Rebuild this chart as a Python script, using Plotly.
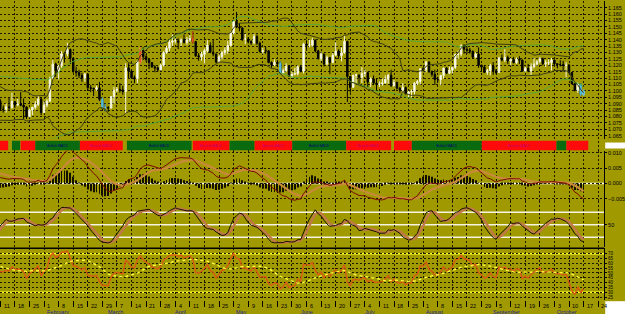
import numpy as np
import pandas as pd
import plotly.graph_objects as go
from plotly.subplots import make_subplots

# ---------------- DATA (EUR/USD daily) ----------------
FIRST_OPEN = 1.0645
N_WARM = 33  # trading days before Jan 11 (off-screen, only feed the indicators)

close = [
    # warm-up Nov 23 2015 .. Jan 8 2016
    1.0634, 1.0646, 1.0623, 1.0612, 1.0592, 1.0565, 1.0632, 1.0612, 1.0940, 1.0882,
    1.0836, 1.0892, 1.1024, 1.0994, 1.0990, 1.0993, 1.0932, 1.0910, 1.0830, 1.0867,
    1.0915, 1.0958, 1.0918, 1.0963, 1.0974, 1.0934, 1.0930, 1.0860,
    1.0826, 1.0749, 1.0780, 1.0929, 1.0920,
    # Jan 11 ..
    1.0856, 1.0855, 1.0875, 1.0868, 1.0916,
    1.0890, 1.0896, 1.0888, 1.0873, 1.0797,
    1.0849, 1.0871, 1.0894, 1.0936, 1.0830,
    1.0888, 1.0919, 1.1100, 1.1210, 1.1157,
    1.1195, 1.1290, 1.1289, 1.1323, 1.1254,
    1.1152, 1.1144, 1.1121, 1.1099, 1.1131,
    1.1025, 1.1019, 1.1014, 1.1024, 1.0934,
    1.0873, 1.0870, 1.0866, 1.0955, 1.1003,
    1.1011, 1.1007, 1.0995, 1.1180, 1.1154,
    1.1103, 1.1095, 1.1228, 1.1316, 1.1267,
    1.1245, 1.1221, 1.1187, 1.1180, 1.1165,
    1.1200, 1.1299, 1.1333, 1.1380, 1.1390,
    1.1390, 1.1380, 1.1400, 1.1378, 1.1398,
    1.1410, 1.1385, 1.1274, 1.1266, 1.1285,
    1.1314, 1.1356, 1.1302, 1.1287, 1.1225,
    1.1266, 1.1300, 1.1316, 1.1354, 1.1452,
    1.1543, 1.1498, 1.1492, 1.1404, 1.1405,
    1.1385, 1.1374, 1.1425, 1.1372, 1.1308,
    1.1314, 1.1313, 1.1221, 1.1203, 1.1223,
    1.1214, 1.1140, 1.1157, 1.1193, 1.1115,
    1.1131, 1.1133, 1.1187, 1.1153, 1.1366,
    1.1356, 1.1357, 1.1396, 1.1312, 1.1251,
    1.1288, 1.1209, 1.1260, 1.1222, 1.1278,
    1.1311, 1.1275, 1.1298, 1.1387, 1.1112,
    1.1027, 1.1121, 1.1124, 1.1105, 1.1136,
    1.1142, 1.1068, 1.1093, 1.1061, 1.1051,
    1.1054, 1.1062, 1.1090, 1.1122, 1.1040,
    1.1067, 1.1021, 1.1006, 1.1026, 1.0975,
    1.0990, 1.0994, 1.1059, 1.1073, 1.1172,
    1.1164, 1.1225, 1.1150, 1.1129, 1.1088,
    1.1087, 1.1120, 1.1178, 1.1138, 1.1161,
    1.1183, 1.1283, 1.1287, 1.1352, 1.1324,
    1.1318, 1.1309, 1.1263, 1.1287, 1.1200,
    1.1186, 1.1144, 1.1158, 1.1196, 1.1156,
    1.1143, 1.1256, 1.1240, 1.1261, 1.1233,
    1.1244, 1.1220, 1.1247, 1.1240, 1.1154,
    1.1176, 1.1155, 1.1188, 1.1209, 1.1228,
    1.1251, 1.1212, 1.1218, 1.1220, 1.1240,
    1.1212, 1.1205, 1.1205, 1.1198, 1.1200,
    1.1143, 1.1056, 1.1004, 1.1053, 1.0972,
    1.0999,
]
high = [
    1.0650, 1.0690, 1.0660, 1.0640, 1.0625, 1.0600, 1.0640, 1.0635, 1.0981, 1.0950,
    1.0890, 1.0910, 1.1042, 1.1044, 1.1030, 1.1060, 1.1000, 1.1010, 1.0915, 1.0880,
    1.0925, 1.0990, 1.0965, 1.0970, 1.0985, 1.0990, 1.0950, 1.0935,
    1.0945, 1.0835, 1.0790, 1.0970, 1.0935,
    1.0935, 1.0885, 1.0900, 1.0945, 1.0985,
    1.0920, 1.0935, 1.0990, 1.0940, 1.0880,
    1.0860, 1.0875, 1.0920, 1.0960, 1.0950,
    1.0915, 1.0935, 1.1110, 1.1240, 1.1220,
    1.1200, 1.1310, 1.1300, 1.1376, 1.1330,
    1.1260, 1.1190, 1.1165, 1.1140, 1.1140,
    1.1135, 1.1045, 1.1025, 1.1040, 1.1070,
    1.0950, 1.0900, 1.0880, 1.0960, 1.1030,
    1.1030, 1.1060, 1.1040, 1.1215, 1.1215,
    1.1160, 1.1120, 1.1240, 1.1340, 1.1340,
    1.1285, 1.1250, 1.1225, 1.1200, 1.1190,
    1.1210, 1.1310, 1.1350, 1.1400, 1.1440,
    1.1410, 1.1410, 1.1410, 1.1440, 1.1420,
    1.1435, 1.1465, 1.1390, 1.1295, 1.1305,
    1.1330, 1.1395, 1.1380, 1.1400, 1.1290,
    1.1285, 1.1310, 1.1340, 1.1390, 1.1465,
    1.1545, 1.1616, 1.1530, 1.1490, 1.1445,
    1.1420, 1.1395, 1.1445, 1.1440, 1.1385,
    1.1335, 1.1345, 1.1315, 1.1230, 1.1245,
    1.1240, 1.1230, 1.1175, 1.1215, 1.1195,
    1.1150, 1.1180, 1.1200, 1.1195, 1.1375,
    1.1395, 1.1400, 1.1415, 1.1400, 1.1320,
    1.1300, 1.1290, 1.1275, 1.1260, 1.1295,
    1.1380, 1.1325, 1.1340, 1.1427, 1.1390,
    1.1115, 1.1125, 1.1135, 1.1125, 1.1185,
    1.1165, 1.1150, 1.1105, 1.1120, 1.1095,
    1.1075, 1.1095, 1.1120, 1.1130, 1.1165,
    1.1085, 1.1070, 1.1030, 1.1060, 1.1035,
    1.1000, 1.1010, 1.1070, 1.1085, 1.1175,
    1.1185, 1.1235, 1.1230, 1.1160, 1.1165,
    1.1110, 1.1125, 1.1180, 1.1185, 1.1190,
    1.1190, 1.1290, 1.1315, 1.1365, 1.1365,
    1.1345, 1.1335, 1.1315, 1.1300, 1.1340,
    1.1205, 1.1200, 1.1170, 1.1210, 1.1225,
    1.1170, 1.1265, 1.1285, 1.1325, 1.1275,
    1.1255, 1.1265, 1.1260, 1.1270, 1.1245,
    1.1190, 1.1210, 1.1215, 1.1255, 1.1240,
    1.1265, 1.1260, 1.1240, 1.1245, 1.1255,
    1.1245, 1.1215, 1.1240, 1.1235, 1.1225,
    1.1210, 1.1145, 1.1060, 1.1065, 1.1055,
    1.1010,
]
low = [
    1.0600, 1.0615, 1.0600, 1.0590, 1.0575, 1.0557, 1.0560, 1.0580, 1.0525, 1.0880,
    1.0800, 1.0820, 1.0880, 1.0950, 1.0940, 1.0950, 1.0930, 1.0900, 1.0805, 1.0805,
    1.0850, 1.0900, 1.0900, 1.0910, 1.0950, 1.0920, 1.0900, 1.0850,
    1.0800, 1.0710, 1.0720, 1.0770, 1.0805,
    1.0845, 1.0830, 1.0830, 1.0850, 1.0860,
    1.0865, 1.0880, 1.0880, 1.0780, 1.0780,
    1.0795, 1.0810, 1.0855, 1.0880, 1.0810,
    1.0830, 1.0870, 1.0915, 1.1090, 1.1110,
    1.1090, 1.1180, 1.1220, 1.1270, 1.1210,
    1.1140, 1.1110, 1.1100, 1.1070, 1.1070,
    1.1000, 1.0990, 1.0960, 1.1000, 1.0920,
    1.0860, 1.0840, 1.0835, 1.0860, 1.0900,
    1.0990, 1.0985, 1.0970, 1.0822, 1.1100,
    1.1095, 1.1060, 1.1060, 1.1210, 1.1240,
    1.1230, 1.1170, 1.1180, 1.1145, 1.1150,
    1.1160, 1.1190, 1.1290, 1.1310, 1.1350,
    1.1370, 1.1325, 1.1350, 1.1370, 1.1360,
    1.1380, 1.1370, 1.1265, 1.1235, 1.1235,
    1.1215, 1.1300, 1.1295, 1.1270, 1.1215,
    1.1220, 1.1245, 1.1280, 1.1290, 1.1345,
    1.1440, 1.1490, 1.1465, 1.1390, 1.1365,
    1.1370, 1.1360, 1.1365, 1.1360, 1.1300,
    1.1290, 1.1290, 1.1215, 1.1180, 1.1195,
    1.1185, 1.1130, 1.1130, 1.1150, 1.1110,
    1.1100, 1.1120, 1.1120, 1.1145, 1.1135,
    1.1325, 1.1340, 1.1345, 1.1300, 1.1245,
    1.1235, 1.1190, 1.1200, 1.1130, 1.1215,
    1.1290, 1.1250, 1.1230, 1.1290, 1.0912,
    1.0985, 1.1025, 1.1060, 1.1050, 1.1060,
    1.1110, 1.1030, 1.1030, 1.1045, 1.1000,
    1.1030, 1.1040, 1.1055, 1.1055, 1.1030,
    1.1030, 1.1010, 1.0985, 1.0980, 1.0975,
    1.0950, 1.0950, 1.0970, 1.1045, 1.1050,
    1.1150, 1.1145, 1.1140, 1.1110, 1.1045,
    1.1070, 1.1045, 1.1095, 1.1130, 1.1130,
    1.1135, 1.1170, 1.1250, 1.1270, 1.1290,
    1.1290, 1.1290, 1.1250, 1.1255, 1.1180,
    1.1160, 1.1140, 1.1125, 1.1120, 1.1125,
    1.1130, 1.1145, 1.1230, 1.1225, 1.1210,
    1.1200, 1.1215, 1.1210, 1.1210, 1.1150,
    1.1150, 1.1145, 1.1120, 1.1175, 1.1195,
    1.1215, 1.1200, 1.1185, 1.1200, 1.1160,
    1.1200, 1.1175, 1.1190, 1.1150, 1.1105,
    1.1135, 1.1050, 1.0995, 1.0985, 1.0960,
    1.0960,
]

# highlighted candles (index counted from Jan 11)
hl_up_idx = [48, 66]
hl_dn_idx = [35, 36, 96, 199, 200]

# MACD signal strip segments (in trading-day index)
seg_start = [-2, 4, 7, 12, 27.3, 43.4, 66, 78.6, 87.2, 100.1, 118.6, 135, 141.1, 165.1, 190.7, 194.1]
seg_end = [2.7, 6.8, 12, 27.3, 42, 65.6, 78.6, 87.2, 100.1, 118.6, 134, 141.1, 165.1, 190.7, 194.1, 201.6]
seg_kind = ['bear', 'bull', 'bear', 'bull', 'bear', 'bull', 'bear', 'bull', 'bear', 'bull', 'bear',
            'bear', 'bull', 'bear', 'bull', 'bear']
seg_label = ['', '', '', 'Bullish MACD', 'Bearish MACD', 'Bullish MACD', 'Bearish MACD', '',
             'Bearish MACD', 'Bullish MACD', 'Bearish MACD', '', 'Bullish MACD', 'Bearish MACD', '', '']

week_labels = ['11', '18', '25', '1', '8', '15', '22', '29', '7', '14', '21', '28', '4', '11', '18', '25',
               '2', '9', '16', '23', '30', '6', '13', '20', '27', '4', '11', '18', '25', '1', '8', '15',
               '22', '29', '5', '12', '19', '26', '3', '10', '17', '24']
month_names = ['February', 'March', 'April', 'May', 'June', 'July', 'August', 'September', 'October']
month_pos = [15, 36, 59, 80, 102, 124, 145, 168, 190]

price_ticks = [1.065, 1.070, 1.075, 1.080, 1.085, 1.090, 1.095, 1.100, 1.105, 1.110, 1.115,
               1.120, 1.125, 1.130, 1.135, 1.140, 1.145, 1.150, 1.155, 1.160, 1.165]
macd_ticks = [-0.005, 0.0, 0.005, 0.010]
stoch_ticks = [50]
rsi_ticks = [25, 30, 35, 40, 45, 50, 55, 60, 65, 70]

# ---------------- derived series (standard indicators) ----------------
c = pd.Series(close, dtype=float)
o = c.shift(1)
o.iloc[0] = FIRST_OPEN
h = pd.concat([pd.Series(high, dtype=float), o, c], axis=1).max(axis=1)
l = pd.concat([pd.Series(low, dtype=float), o, c], axis=1).min(axis=1)
x = np.arange(len(c)) - N_WARM

sma20 = c.rolling(20).mean()
sd20 = c.rolling(20).std(ddof=0)
bb_up, bb_dn = sma20 + 2 * sd20, sma20 - 2 * sd20
sma50 = c.rolling(50, min_periods=20).mean()
sd50 = c.rolling(50, min_periods=20).std(ddof=0)
bb50_up, bb50_dn = sma50 + 2 * sd50, sma50 - 2 * sd50

ema12 = c.ewm(span=12, adjust=False).mean()
ema26 = c.ewm(span=26, adjust=False).mean()
macd = ema12 - ema26
signal = macd.ewm(span=9, adjust=False).mean()
hist = macd - signal

ll = l.rolling(14).min()
hh = h.rolling(14).max()
k_raw = 100 * (c - ll) / (hh - ll)
k_slow = k_raw.rolling(5).mean()
d_slow = k_slow.rolling(3).mean()

delta = c.diff()
gain = delta.clip(lower=0)
loss = -delta.clip(upper=0)
ag = gain.ewm(alpha=1 / 14, adjust=False).mean()
al = loss.ewm(alpha=1 / 14, adjust=False).mean()
rsi = 100 - 100 / (1 + ag / al)
rsi_ma = rsi.rolling(14).mean()

# ---------------- figure ----------------
BG = '#a09a00'
GRID = '#1c1a00'
GDASH = '2px,2px'
FONT = 'Liberation Sans'

fig = make_subplots(rows=5, cols=1, shared_xaxes=True, vertical_spacing=0)

fig.add_trace(go.Scatter(x=x, y=bb50_up, mode='lines', line=dict(color='#58a838', width=1)), 1, 1)
fig.add_trace(go.Scatter(x=x, y=bb50_dn, mode='lines', line=dict(color='#58a838', width=1)), 1, 1)
fig.add_trace(go.Scatter(x=x, y=bb_up, mode='lines', line=dict(color='#3c3c14', width=1)), 1, 1)
fig.add_trace(go.Scatter(x=x, y=bb_dn, mode='lines', line=dict(color='#3c3c14', width=1)), 1, 1)

fig.add_trace(go.Candlestick(
    x=x, open=o, high=h, low=l, close=c,
    increasing=dict(line=dict(color='#f4f4dc', width=1), fillcolor='#ffffff'),
    decreasing=dict(line=dict(color='#000000', width=1), fillcolor='#000000'),
    whiskerwidth=0), 1, 1)


def masked(series, idx_list):
    s = pd.Series(np.nan, index=series.index)
    for i in idx_list:
        s.iloc[i + N_WARM] = series.iloc[i + N_WARM]
    return s


for idx_list, col in ((hl_up_idx, '#e0501c'), (hl_dn_idx, '#58b8d8')):
    fig.add_trace(go.Candlestick(
        x=x, open=masked(o, idx_list), high=masked(h, idx_list), low=masked(l, idx_list),
        close=masked(c, idx_list),
        increasing=dict(line=dict(color=col, width=1), fillcolor=col),
        decreasing=dict(line=dict(color=col, width=1), fillcolor=col),
        whiskerwidth=0), 1, 1)

# signal strip
seg_color = ['#ff0a0a' if k == 'bear' else '#0a6a10' for k in seg_kind]
seg_tcolor = ['#c0007a' if k == 'bear' else '#00007a' for k in seg_kind]
fig.add_trace(go.Bar(
    orientation='h', y=[0.5] * len(seg_start), base=seg_start,
    x=[e - s for s, e in zip(seg_start, seg_end)], width=1.0,
    marker=dict(color=seg_color, line=dict(width=0)),
    text=seg_label, textposition='inside', insidetextanchor='middle', textangle=0,
    textfont=dict(size=5, color=seg_tcolor, family=FONT)), 2, 1)

# MACD
fig.add_trace(go.Bar(x=x, y=hist, width=0.28, marker=dict(color='#141000', line=dict(width=0))), 3, 1)
fig.add_trace(go.Scatter(x=x, y=signal, mode='lines', line=dict(color='#c88a3a', width=2.2)), 3, 1)
fig.add_trace(go.Scatter(x=x, y=macd, mode='lines', line=dict(color='#7a0a00', width=1)), 3, 1)

# Stochastic
fig.add_trace(go.Scatter(x=x, y=d_slow, mode='lines', line=dict(color='#c07848', width=2.4)), 4, 1)
fig.add_trace(go.Scatter(x=x, y=k_slow, mode='lines', line=dict(color='#1a1000', width=1)), 4, 1)

# RSI
fig.add_trace(go.Scatter(x=x, y=rsi, mode='lines', line=dict(color='#d85a10', width=1.4)), 5, 1)
fig.add_trace(go.Scatter(x=x, y=rsi_ma, mode='lines', line=dict(color='#ffff40', width=1.3, dash='dot')), 5, 1)

H = 300.0


def dom(py_top, py_bot):
    return [(H - py_bot) / H, (H - py_top) / H]


def yax(domain, rng, ticks, fmt, grid=True, fsize=6):
    return dict(domain=domain, range=rng, side='right', tickvals=ticks, tickformat=fmt,
                showline=True, linecolor='black', linewidth=1, ticks='outside', ticklen=2,
                tickcolor='black', tickfont=dict(size=fsize, color='black', family=FONT),
                showgrid=grid, gridcolor=GRID, griddash=GDASH, gridwidth=1,
                zeroline=False, fixedrange=True)


mondays = [5 * k for k in range(len(week_labels))]
xcommon = dict(range=[-0.1, 207.0], tickvals=mondays, showticklabels=False, showgrid=True,
               gridcolor=GRID, griddash=GDASH, gridwidth=1, zeroline=False, showline=False,
               rangeslider=dict(visible=False), fixedrange=True)

fig.update_layout(
    width=625, height=314, margin=dict(l=0, r=19, t=0, b=14),
    paper_bgcolor=BG, plot_bgcolor=BG, showlegend=False,
    font=dict(family=FONT, size=6, color='black'),
    yaxis=yax(dom(0, 138), [1.0627, 1.1702], price_ticks, '.3f', fsize=5.5),
    yaxis2=dict(domain=dom(140, 150), range=[0, 1], visible=False, fixedrange=True),
    yaxis3=yax(dom(150, 201), [-0.00588, 0.01078], macd_ticks, '.3f', fsize=5.5),
    yaxis4=yax(dom(201, 247), [-3.8, 106.5], stoch_ticks, 'd', grid=False, fsize=5.5),
    yaxis5=yax(dom(248, 300), [21.9, 75.7], rsi_ticks, 'd', fsize=4.5),
)
for i in range(1, 6):
    fig.update_layout(**{('xaxis' if i == 1 else f'xaxis{i}'): xcommon})
fig.update_layout(xaxis5=dict(ticks='outside', ticklen=6, tickcolor='black', tickwidth=1))

shapes = []
shapes.append(dict(type='line', xref='paper', x0=0, x1=1, yref='y3', y0=0, y1=0,
                   line=dict(color='white', width=1.5), layer='below'))
for v in (20, 50, 80):
    shapes.append(dict(type='line', xref='paper', x0=0, x1=1, yref='y4', y0=v, y1=v,
                       line=dict(color='#f4f4e0', width=1.5), layer='below'))
for v in (30, 70):
    shapes.append(dict(type='line', xref='paper', x0=0, x1=1, yref='y5', y0=v, y1=v,
                       line=dict(color='#ffff30', width=1.5), layer='below'))
shapes.append(dict(type='line', xref='paper', x0=0, x1=1, yref='paper',
                   y0=dom(248, 300)[1], y1=dom(248, 300)[1], line=dict(color='black', width=1.5)))
shapes.append(dict(type='rect', xref='paper', x0=1.002, x1=1.04, yref='paper',
                   y0=(H - 148) / H, y1=(H - 142) / H, fillcolor='white', line=dict(width=0)))
shapes.append(dict(type='rect', xref='paper', x0=1.002, x1=1.04, yref='paper',
                   y0=-0.06, y1=-0.004, fillcolor='white', line=dict(width=0)))
fig.update_layout(shapes=shapes)

ann = []
for m, lab in zip(mondays, week_labels):
    ann.append(dict(x=m + 0.45, xref='x5', y=-0.004, yref='paper', text=lab, showarrow=False,
                    xanchor='left', yanchor='top', font=dict(size=5.5, color='black', family=FONT)))
for m, lab in zip(month_pos, month_names):
    ann.append(dict(x=m + 0.3, xref='x5', y=-0.024, yref='paper', text=lab, showarrow=False,
                    xanchor='left', yanchor='top', font=dict(size=5.5, color='#24249a', family=FONT)))
fig.update_layout(annotations=ann)

fig.write_html('out.html')
